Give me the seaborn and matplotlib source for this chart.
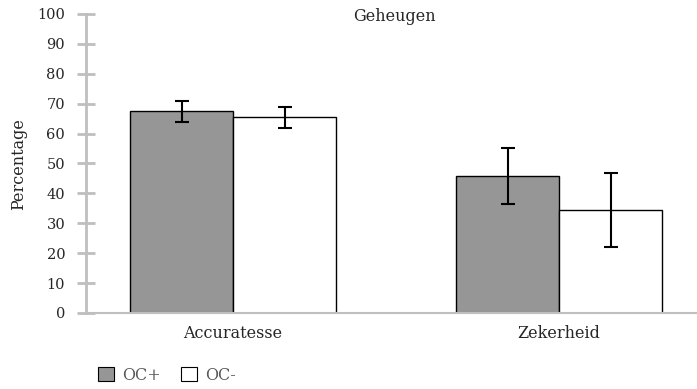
import matplotlib
matplotlib.use("Agg")
import matplotlib.pyplot as plt
import seaborn as sns
import pandas as pd
from matplotlib.patches import Patch

categories = ["Accuratesse", "Zekerheid"]
groups = ["OC+", "OC-"]
values_oc_plus = [67.5, 45.8]
values_oc_min = [65.5, 34.4]
err_oc_plus = [3.5, 9.5]
err_oc_min = [3.5, 12.3]
yticks = [0, 10, 20, 30, 40, 50, 60, 70, 80, 90, 100]

sns.set_theme(style="white")
plt.rcParams['font.family'] = ['DejaVu Serif', 'Liberation Serif']

df = pd.DataFrame({
    "cat": categories * 2,
    "grp": [groups[0]] * 2 + [groups[1]] * 2,
    "val": values_oc_plus + values_oc_min,
})

fig = plt.figure(figsize=(6.97, 3.89), dpi=100)
ax = fig.add_axes([86 / 697, 76 / 389, 611 / 697, 299 / 389])

palette = {"OC+": "#969696", "OC-": "#ffffff"}
sns.barplot(data=df, x="cat", y="val", hue="grp", palette=palette, width=0.632,
            edgecolor="black", linewidth=1.0, ax=ax, legend=False, errorbar=None,
            saturation=1)

# error bars at bar centers
errs = {"OC+": err_oc_plus, "OC-": err_oc_min}
vals = {"OC+": values_oc_plus, "OC-": values_oc_min}
bar_containers = list(ax.containers)
for gi, container in enumerate(bar_containers):
    g = groups[gi]
    xs = [p.get_x() + p.get_width() / 2 for p in container]
    ax.errorbar(xs, vals[g], yerr=errs[g], fmt="none", ecolor="black",
                elinewidth=1.5, capsize=5.3, capthick=1.5, zorder=5)

txt = "#262626"
ax.set_ylim(0, 100)
ax.set_xlim(-0.451, 1.423)
ax.set_yticks(yticks)
ax.set_yticklabels([str(t) for t in yticks])
ax.tick_params(axis="y", left=True, direction="inout", length=13, width=2,
               color="#BFBFBF", labelsize=10.5, labelcolor=txt, pad=8.5)
ax.tick_params(axis="x", bottom=False, length=0, labelsize=11.5, labelcolor=txt, pad=9)
for s in ["top", "right"]:
    ax.spines[s].set_visible(False)
ax.spines["left"].set_color("#BFBFBF")
ax.spines["left"].set_linewidth(2)
ax.spines["bottom"].set_color("#BFBFBF")
ax.spines["bottom"].set_linewidth(1.5)
ax.set_xlabel("")
ax.set_ylabel("")
fig.text(19 / 697, 1 - 164 / 389, "Percentage", rotation=90, ha="center", va="center",
         fontsize=11.5, color=txt)
fig.text(394 / 697, 1 - 21 / 389, "Geheugen", ha="center", va="baseline",
         fontsize=11.5, color=txt)

handles = [Patch(facecolor="#969696", edgecolor="black", linewidth=0.8, label="OC+"),
           Patch(facecolor="#ffffff", edgecolor="black", linewidth=0.8, label="OC-")]
fig.legend(handles=handles, loc="center left", bbox_to_anchor=(98 / 697, 1 - 375 / 389),
           ncol=2, frameon=False, fontsize=11.5, handlelength=1.0, handleheight=1.0,
           handletextpad=0.5, columnspacing=1.3, labelcolor="#595959",
           borderpad=0, borderaxespad=0)

fig.savefig("out.png", dpi=100, facecolor="white")
